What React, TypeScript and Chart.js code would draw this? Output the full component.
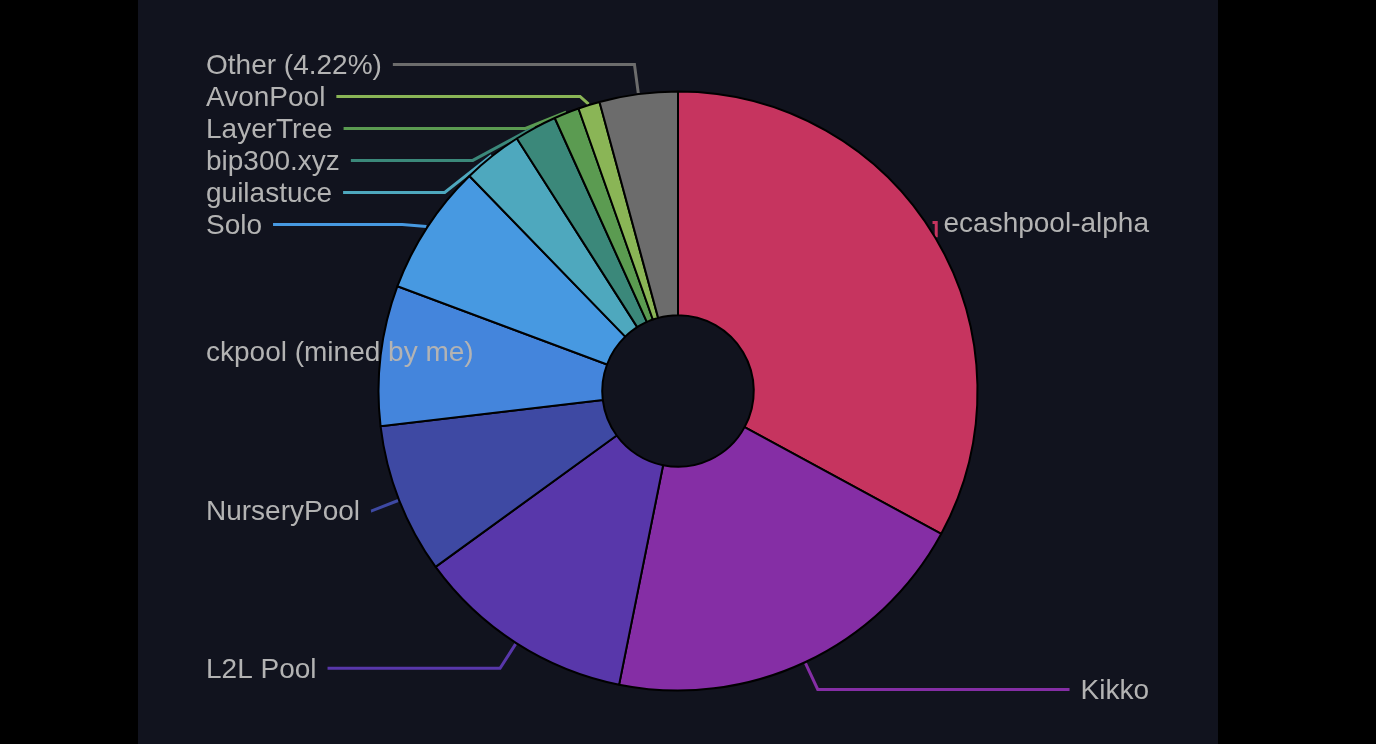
import React, { useEffect, useRef } from 'react';
import { Chart, registerables } from 'chart.js';

Chart.register(...registerables);

// ---- data ----
const categories = [
  'ecashpool-alpha',
  'Kikko',
  'L2L Pool',
  'NurseryPool',
  'ckpool (mined by me)',
  'Solo',
  'guilastuce',
  'bip300.xyz',
  'LayerTree',
  'AvonPool',
  'Other',
];
const shares = [32.91, 20.24, 11.86, 8.11, 7.57, 7.05, 3.22, 2.29, 1.36, 1.17, 4.22];
const sliceColors = [
  '#c6345f',
  '#852ea5',
  '#5837aa',
  '#3e49a3',
  '#4485dc',
  '#4799e1',
  '#4ea8be',
  '#3b887a',
  '#5b9b51',
  '#8ab556',
  '#6c6c6c',
];

// ---- styles ----
const PAGE_BG = '#000000';
const PANEL_BG = '#11131e';
const LABEL_COLOR = '#b3b3b3';
const FONT = '28px "Liberation Sans", Arial, Helvetica, sans-serif';
const W = 1080;
const H = 744;
const PANEL_LEFT = 138;
const EDGE_LEFT = 68;
const EDGE_RIGHT = 69;
const LEN1 = 29;
const GAP = 11;
const ROW = 32;
const BORDER_W = 2;
const TEXT_DY = 1.5;

type Pt = { x: number; y: number };

function labelText(i: number): string {
  if (categories[i] === 'Other') {
    const total = shares.reduce((a, b) => a + b, 0);
    return `Other (${((shares[i] / total) * 100).toFixed(2)}%)`;
  }
  return categories[i];
}

function project(a: Pt, b: Pt, p: Pt) {
  const dx = b.x - a.x;
  const dy = b.y - a.y;
  const l2 = dx * dx + dy * dy;
  const t = l2 > 0 ? ((p.x - a.x) * dx + (p.y - a.y) * dy) / l2 : 0;
  const px = a.x + t * dx;
  const py = a.y + t * dy;
  return { px, py, d: Math.hypot(px - p.x, py - p.y) };
}

function moveOnSegment(pts: Pt[], tx: number, ty: number) {
  const p1 = pts[1];
  const p2 = pts[2];
  const t = p2.x !== p1.x ? (tx - p1.x) / (p2.x - p1.x) : (ty - p1.y) / (p2.y - p1.y);
  if (isNaN(t)) return;
  if (t < 0) return;
  if (t > 1) {
    pts[1] = { x: p2.x, y: p2.y };
    return;
  }
  pts[1] = { x: tx, y: ty };
}

function limitTurnAngle(pts: Pt[], minDeg: number) {
  const a = (minDeg * Math.PI) / 180;
  const [p0, p1, p2] = pts;
  let d1x = p0.x - p1.x, d1y = p0.y - p1.y;
  let d2x = p2.x - p1.x, d2y = p2.y - p1.y;
  const l1 = Math.hypot(d1x, d1y);
  const l2 = Math.hypot(d2x, d2y);
  if (l1 < 1e-3 || l2 < 1e-3) return;
  d1x /= l1; d1y /= l1; d2x /= l2; d2y /= l2;
  const c = d1x * d2x + d1y * d2y;
  if (Math.cos(a) < c) {
    const { px, py, d } = project(p1, p2, p0);
    const k = d / Math.tan(Math.PI - a);
    moveOnSegment(pts, px + d2x * k, py + d2y * k);
  }
}

function limitSurfaceAngle(pts: Pt[], n: Pt, maxDeg: number) {
  const a = (maxDeg * Math.PI) / 180;
  const [p0, p1, p2] = pts;
  let d1x = p1.x - p0.x, d1y = p1.y - p0.y;
  let d2x = p2.x - p1.x, d2y = p2.y - p1.y;
  const l1 = Math.hypot(d1x, d1y);
  const l2 = Math.hypot(d2x, d2y);
  if (l1 < 1e-3 || l2 < 1e-3) return;
  d1x /= l1; d1y /= l1; d2x /= l2; d2y /= l2;
  const c = d1x * n.x + d1y * n.y;
  if (c < Math.cos(a)) {
    const { px, py, d } = project(p1, p2, p0);
    const angle2 = Math.acos(Math.max(-1, Math.min(1, d2x * n.x + d2y * n.y)));
    const newAngle = Math.PI / 2 + angle2 - a;
    if (newAngle >= Math.PI / 2) {
      pts[1] = { x: p2.x, y: p2.y };
    } else {
      const k = d / Math.tan(Math.PI / 2 - newAngle);
      moveOnSegment(pts, px + d2x * k, py + d2y * k);
    }
  }
}

type Item = {
  i: number;
  left: boolean;
  text: string;
  width: number;
  y: number;
  textX: number;
  pts: Pt[];
  showLine: boolean;
};

function computeLayout(chart: any): Item[] {
  const ctx: CanvasRenderingContext2D = chart.ctx;
  const meta = chart.getDatasetMeta(0);
  ctx.save();
  ctx.font = FONT;
  const raw = meta.data.map((arc: any, i: number) => {
    const p = arc.getProps(['x', 'y', 'startAngle', 'endAngle', 'outerRadius'], true);
    const mid = (p.startAngle + p.endAngle) / 2;
    const nx = Math.cos(mid);
    const ny = Math.sin(mid);
    const r = p.outerRadius + BORDER_W / 2;
    const text = labelText(i);
    return {
      i,
      nx,
      ny,
      p0: { x: p.x + nx * r, y: p.y + ny * r },
      a: { x: p.x + nx * (r + LEN1), y: p.y + ny * (r + LEN1) },
      text,
      width: ctx.measureText(text).width,
      left: nx < 0,
      y: 0,
    };
  });
  ctx.restore();

  for (const side of [true, false]) {
    const list = raw.filter((it: any) => it.left === side).sort((u: any, v: any) => u.a.y - v.a.y);
    let prev = -Infinity;
    for (const it of list) {
      it.y = Math.max(it.a.y, prev + ROW);
      prev = it.y;
    }
    let next = Infinity;
    const maxY = chart.height - ROW / 2;
    for (let k = list.length - 1; k >= 0; k--) {
      const it = list[k];
      it.y = Math.min(it.y, maxY, next - ROW);
      next = it.y;
    }
  }

  const w = chart.width;
  return raw.map((it: any) => {
    const textX = it.left ? EDGE_LEFT : w - EDGE_RIGHT;
    const endX = it.left ? EDGE_LEFT + it.width + GAP : w - EDGE_RIGHT - it.width - GAP;
    // the label text runs into the slice: no guide line
    const showLine = it.left ? endX < it.p0.x : endX > it.p0.x - 2 * LEN1;
    const pts: Pt[] = [{ ...it.p0 }, { x: it.a.x, y: it.y }, { x: endX, y: it.y }];
    limitSurfaceAngle(pts, { x: it.nx, y: it.ny }, 90);
    limitTurnAngle(pts, 90);
    return { i: it.i, left: it.left, text: it.text, width: it.width, y: it.y, textX, pts, showLine };
  });
}

const pieLabels = {
  id: 'pieLabels',
  beforeDatasetsDraw(chart: any) {
    const items = computeLayout(chart);
    (chart as any).$pieLabelItems = items;
    const ctx: CanvasRenderingContext2D = chart.ctx;
    ctx.save();
    ctx.lineWidth = 3;
    ctx.lineJoin = 'miter';
    ctx.lineCap = 'butt';
    for (const it of items) {
      if (!it.showLine) continue;
      ctx.strokeStyle = sliceColors[it.i];
      ctx.beginPath();
      ctx.moveTo(it.pts[0].x, it.pts[0].y);
      ctx.lineTo(it.pts[1].x, it.pts[1].y);
      ctx.lineTo(it.pts[2].x, it.pts[2].y);
      ctx.stroke();
    }
    ctx.restore();
  },
  afterDatasetsDraw(chart: any) {
    const items: Item[] = (chart as any).$pieLabelItems || computeLayout(chart);
    const ctx: CanvasRenderingContext2D = chart.ctx;
    ctx.save();
    ctx.font = FONT;
    ctx.fillStyle = LABEL_COLOR;
    ctx.textBaseline = 'middle';
    for (const it of items) {
      ctx.textAlign = it.left ? 'left' : 'right';
      ctx.fillText(it.text, it.textX, it.y + TEXT_DY);
    }
    ctx.restore();
  },
};

export default function App() {
  const ref = useRef<HTMLCanvasElement | null>(null);

  useEffect(() => {
    document.body.style.margin = '0';
    document.body.style.background = PAGE_BG;
    const canvas = ref.current;
    if (!canvas) return;
    const chart = new Chart(canvas, {
      type: 'doughnut',
      data: {
        labels: categories,
        datasets: [
          {
            data: shares,
            backgroundColor: sliceColors,
            borderColor: '#000000',
            borderWidth: BORDER_W,
            hoverOffset: 0,
          },
        ],
      },
      options: {
        responsive: false,
        animation: false,
        events: [],
        radius: 299.5,
        cutout: '25.3%',
        layout: { padding: { top: 38 } },
        plugins: {
          legend: { display: false },
          tooltip: { enabled: false },
        },
      } as any,
      plugins: [pieLabels],
    });
    return () => chart.destroy();
  }, []);

  return (
    <div style={{ position: 'fixed', inset: 0, background: PAGE_BG, overflow: 'hidden' }}>
      <div
        style={{
          position: 'absolute',
          left: PANEL_LEFT,
          top: 0,
          width: W,
          height: H,
          background: PANEL_BG,
        }}
      >
        <canvas ref={ref} width={W} height={H} style={{ display: 'block', width: W, height: H }} />
      </div>
    </div>
  );
}
